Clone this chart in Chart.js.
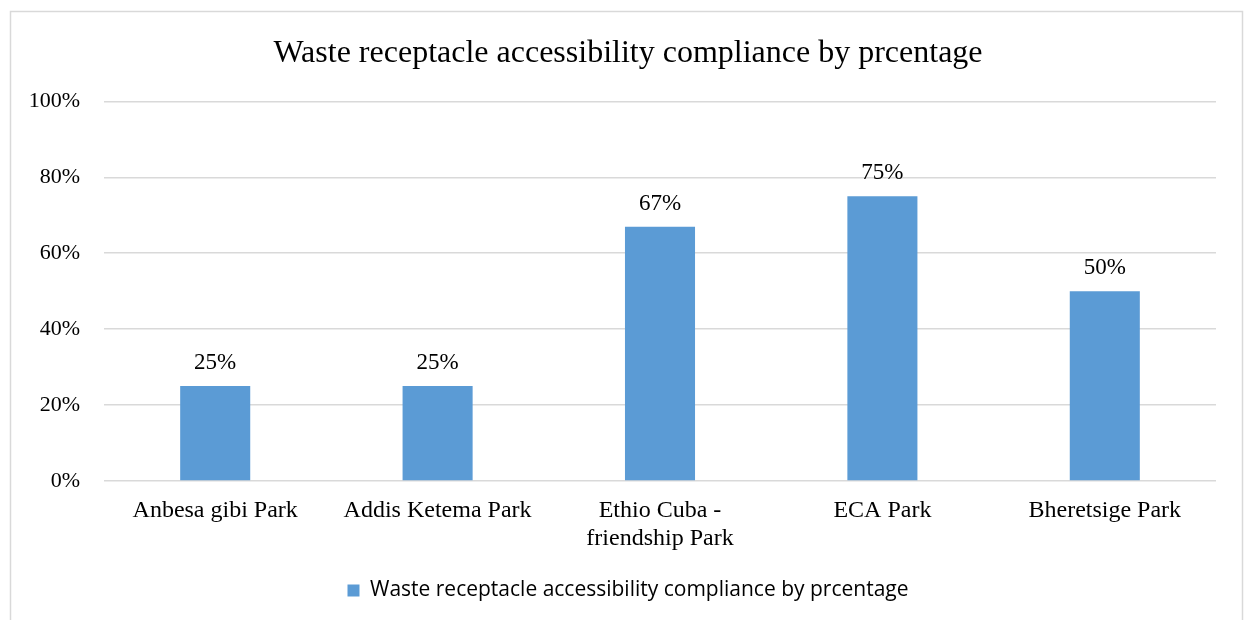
<!DOCTYPE html>
<html>
<head>
<meta charset="utf-8">
<script src="https://cdn.jsdelivr.net/npm/chart.js@4"></script>
<style>
  html, body { margin: 0; padding: 0; background: #fff; }
  #wrap { width: 1244px; height: 620px; }
</style>
</head>
<body>
<div id="wrap"><canvas id="chart" width="1244" height="620"></canvas></div>
<script>
const parks = ["Anbesa gibi Park", "Addis Ketema Park", ["Ethio Cuba -", "friendship Park"], "ECA Park", "Bheretsige Park"];
const compliance = [25, 25, 67, 75, 50];
const yTicks = [0, 20, 40, 60, 80, 100];
const seriesName = "Waste receptacle accessibility compliance by prcentage";

const serif = "'Liberation Serif', 'Times New Roman', serif";

// light frame around the chart, like the office export
const frame = {
  id: "frame",
  beforeDraw(chart) {
    const c = chart.ctx;
    c.save();
    c.fillStyle = "#fff";
    c.fillRect(0, 0, chart.width, chart.height);
    c.strokeStyle = "#d9d9d9";
    c.lineWidth = 1.5;
    c.strokeRect(10.5, 11.5, 1232, 700);
    c.restore();
  }
};

// value labels above each bar
const valueLabels = {
  id: "valueLabels",
  afterDatasetsDraw(chart) {
    const c = chart.ctx;
    c.save();
    c.font = "23px " + serif;
    c.fillStyle = "#000";
    c.textAlign = "center";
    c.textBaseline = "middle";
    chart.getDatasetMeta(0).data.forEach((bar, i) => {
      c.fillText(compliance[i] + "%", bar.x, bar.y - 23);
    });
    c.restore();
  }
};

new Chart(document.getElementById("chart"), {
  type: "bar",
  data: {
    labels: parks,
    datasets: [{
      label: seriesName,
      data: compliance,
      backgroundColor: "#5b9bd5",
      categoryPercentage: 1,
      barPercentage: 0.315
    }]
  },
  options: {
    responsive: false,
    animation: false,
    layout: { padding: { left: 20, right: 8, top: 0, bottom: 9 } },
    plugins: {
      title: {
        display: true,
        text: "Waste receptacle accessibility compliance by prcentage",
        color: "#000",
        font: { family: serif, size: 32, weight: "normal", lineHeight: 1.2 },
        padding: { top: 34, bottom: 29 }
      },
      legend: {
        position: "bottom",
        labels: {
          color: "#000",
          boxWidth: 12,
          boxHeight: 12,
          padding: 10,
          font: { family: "'Open Sans', sans-serif", size: 21 }
        }
      },
      tooltip: { enabled: false }
    },
    scales: {
      x: {
        grid: { display: false },
        border: { display: false },
        ticks: {
          color: "#000",
          padding: 8,
          maxRotation: 0,
          font: { family: serif, size: 24, lineHeight: 1.17 }
        },
        afterFit(scale) { scale.height = 89; }
      },
      y: {
        min: 0,
        max: 100,
        afterBuildTicks(scale) { scale.ticks = yTicks.map(v => ({ value: v })); },
        grid: { color: "#d9d9d9", lineWidth: 1.5, drawTicks: false },
        border: { display: false },
        ticks: {
          color: "#000",
          padding: 24,
          font: { family: serif, size: 22 },
          callback: v => v + "%"
        },
        afterFit(scale) { scale.width = 84; }
      },
      yRight: {
        position: "right",
        grid: { display: false, drawTicks: false },
        border: { display: false },
        ticks: { display: false },
        afterFit(scale) { scale.width = 20; }
      }
    }
  },
  plugins: [frame, valueLabels]
});
</script>
</body>
</html>
